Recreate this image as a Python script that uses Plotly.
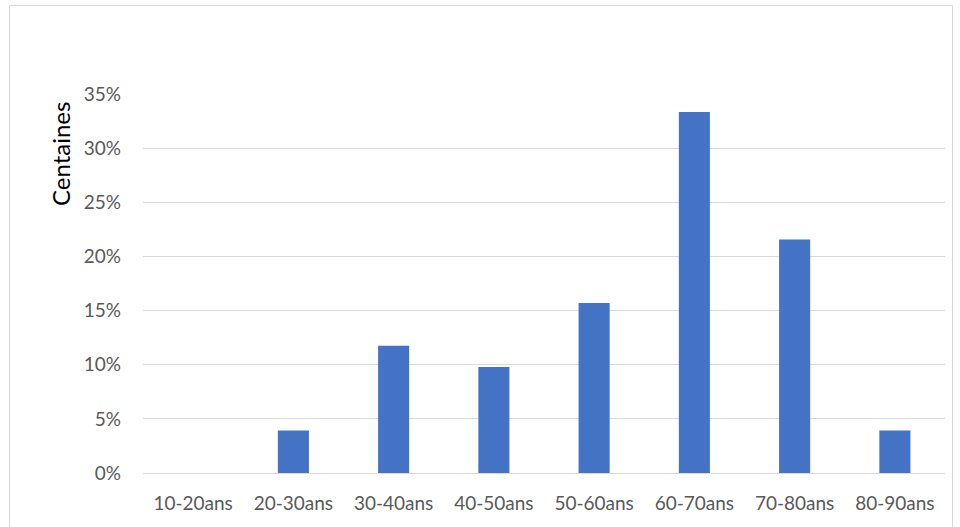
import plotly.graph_objects as go

# Age brackets and share of respondents in each
categories = ["10-20ans", "20-30ans", "30-40ans", "40-50ans",
              "50-60ans", "60-70ans", "70-80ans", "80-90ans"]
shares = [0.0, 0.0392, 0.1176, 0.098, 0.1569, 0.3333, 0.2157, 0.0392]
y_ticks = [0, 0.05, 0.10, 0.15, 0.20, 0.25, 0.30, 0.35]
y_tick_labels = ["0%", "5%", "10%", "15%", "20%", "25%", "30%", "35%"]

W, H = 960, 527
L, R, T, B = 143, 15, 94, 54

fig = go.Figure(go.Bar(
    x=categories, y=shares,
    marker=dict(color="#4472C4", line=dict(width=0)),
    width=0.31,
))

def px_to_paper_x(px):
    return (px - L) / (W - L - R)

def px_to_paper_y(py):
    return (H - B - py) / (H - T - B)

fig.update_layout(
    width=W, height=H,
    margin=dict(l=L, r=R, t=T, b=B),
    paper_bgcolor="white", plot_bgcolor="white",
    showlegend=False,
    font=dict(family="Lato, Calibri, sans-serif", size=19, color="#595959"),
    xaxis=dict(
        showgrid=False, showline=False, zeroline=False, ticks="",
        tickfont=dict(size=19, color="#595959"), ticklabelstandoff=17,
    ),
    yaxis=dict(
        range=[0, 0.35], tickvals=y_ticks, ticktext=y_tick_labels,
        showgrid=True, gridcolor="#d9d9d9", gridwidth=1,
        zeroline=True, zerolinecolor="#d9d9d9", zerolinewidth=1,
        showline=False, ticks="", ticklabelstandoff=21,
        tickfont=dict(size=19, color="#595959"),
    ),
    annotations=[dict(
        text="Centaines", textangle=-90, showarrow=False,
        xref="paper", yref="paper",
        x=px_to_paper_x(60), y=px_to_paper_y(154),
        xanchor="center", yanchor="middle",
        font=dict(size=24, color="#000000"),
    )],
    shapes=[dict(
        type="rect", xref="paper", yref="paper",
        x0=px_to_paper_x(9.5), x1=px_to_paper_x(952.5),
        y0=px_to_paper_y(540), y1=px_to_paper_y(5.5),
        line=dict(color="#d9d9d9", width=1), fillcolor="rgba(0,0,0,0)",
        layer="below",
    )],
)

fig.write_html("out.html")
